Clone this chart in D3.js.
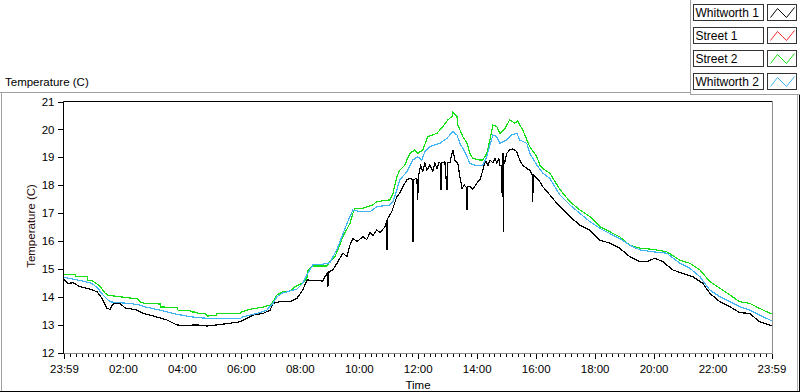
<!DOCTYPE html>
<html><head><meta charset="utf-8">
<script src="https://cdn.jsdelivr.net/npm/d3@7"></script>
<style>
html,body{margin:0;padding:0;background:#fff;}
svg{display:block;font-family:"Liberation Sans",Arial,sans-serif;}
</style></head><body>
<svg id="chart" width="800" height="392"></svg>
<script>
// ---------- data ----------
const seriesNames = ["Whitworth 1", "Street 1", "Street 2", "Whitworth 2"];
const seriesColors = ["#000000", "#ff2a2a", "#12e012", "#40b4f4"];
const yTicks = [12, 13, 14, 15, 16, 17, 18, 19, 20, 21];
const xTickHours = [0, 2, 4, 6, 8, 10, 12, 14, 16, 18, 20, 22, 24];
const xTickLabels = ["23:59", "02:00", "04:00", "06:00", "08:00", "10:00", "12:00", "14:00", "16:00", "18:00", "20:00", "22:00", "23:59"];

// [hours after 23:59, temperature °C]
const whitworth1 = [[0,14.62],[0.14,14.48],[0.31,14.5],[0.54,14.36],[0.88,14.27],[1.12,14.18],[1.29,13.94],[1.46,13.58],[1.56,13.55],[1.66,13.74],[1.9,13.76],[2.07,13.6],[2.48,13.52],[2.68,13.4],[3.02,13.31],[3.49,13.17],[3.83,12.99],[4.04,12.97],[4.51,12.99],[4.85,12.95],[5.19,12.99],[5.63,13.05],[5.97,13.1],[6.21,13.23],[6.41,13.34],[6.75,13.4],[6.99,13.52],[7.09,13.76],[7.32,13.82],[7.66,13.82],[7.9,13.94],[8.1,14.24],[8.24,14.6],[8.58,14.58],[8.78,14.56],[8.92,14.85],[8.95,14.36],[8.99,14.9],[9.12,14.96],[9.26,15.2],[9.46,15.56],[9.6,15.44],[9.7,15.85],[9.8,16.09],[9.94,15.98],[10.14,16.15],[10.27,16.05],[10.38,16.3],[10.48,16.2],[10.61,16.39],[10.72,16.3],[10.89,16.51],[10.95,16.75],[10.96,15.68],[10.98,16.8],[11.12,17.05],[11.29,17.59],[11.39,17.71],[11.5,17.95],[11.63,18.19],[11.73,18.25],[11.83,18.2],[11.84,15.98],[11.86,18.2],[11.97,18.25],[12.0,17.47],[12.02,18.3],[12.1,18.7],[12.17,18.5],[12.24,18.8],[12.31,18.54],[12.41,18.72],[12.51,18.5],[12.58,18.8],[12.65,18.6],[12.72,18.82],[12.78,18.78],[12.79,17.83],[12.81,18.8],[12.92,18.84],[12.99,17.83],[13.01,18.8],[13.09,18.8],[13.19,19.26],[13.26,18.9],[13.36,18.78],[13.43,18.3],[13.5,17.89],[13.58,18.0],[13.66,17.9],[13.67,17.11],[13.69,17.95],[13.77,17.95],[13.87,17.85],[14.0,18.07],[14.11,18.2],[14.21,18.54],[14.3,18.9],[14.38,18.7],[14.45,18.9],[14.55,18.8],[14.62,18.95],[14.68,18.8],[14.75,18.95],[14.79,18.72],[14.84,18.7],[14.85,17.71],[14.87,19.0],[14.89,19.14],[14.9,16.33],[14.92,18.9],[14.95,18.8],[15.02,19.14],[15.12,19.26],[15.23,19.3],[15.36,19.2],[15.46,18.9],[15.56,18.72],[15.7,18.6],[15.8,18.54],[15.89,18.36],[15.9,17.41],[15.92,18.36],[16.04,18.25],[16.14,18.13],[16.24,17.95],[16.48,17.65],[16.82,17.23],[17.16,16.87],[17.5,16.57],[17.84,16.39],[18.18,16.03],[18.51,15.92],[18.85,15.74],[19.19,15.44],[19.53,15.26],[19.77,15.26],[20.04,15.38],[20.31,15.26],[20.65,14.96],[20.99,14.84],[21.33,14.72],[21.67,14.48],[21.91,14.12],[22.25,13.82],[22.59,13.64],[22.92,13.43],[23.26,13.4],[23.6,13.1],[24,12.96]];
const street1 = [];
const street2 = [[0,14.8],[0.37,14.8],[0.41,14.72],[0.78,14.72],[0.81,14.6],[0.98,14.56],[1.22,14.38],[1.39,14.13],[1.49,14.05],[1.9,14.0],[2.48,13.92],[2.58,13.82],[2.75,13.76],[3.26,13.74],[3.29,13.63],[3.83,13.62],[3.87,13.52],[4.27,13.5],[4.31,13.46],[4.51,13.44],[4.54,13.4],[4.78,13.4],[4.85,13.31],[5.15,13.32],[5.19,13.4],[5.97,13.4],[6.04,13.46],[6.31,13.55],[6.75,13.63],[6.99,13.7],[7.09,13.82],[7.22,14.06],[7.43,14.18],[7.66,14.2],[7.83,14.36],[8.07,14.48],[8.24,14.66],[8.27,14.93],[8.44,15.1],[8.92,15.1],[9.02,15.26],[9.19,15.44],[9.29,15.68],[9.46,16.15],[9.7,16.63],[9.8,16.99],[9.87,17.17],[10.14,17.17],[10.48,17.29],[10.61,17.41],[11.05,17.47],[11.16,17.71],[11.29,18.3],[11.39,18.54],[11.56,18.72],[11.73,19.14],[11.9,19.26],[12.0,19.14],[12.17,19.26],[12.34,19.74],[12.65,19.86],[12.85,20.1],[13.02,20.34],[13.16,20.46],[13.19,20.63],[13.33,20.46],[13.36,20.16],[13.53,19.74],[13.67,19.5],[13.77,19.14],[13.87,18.96],[14.11,18.9],[14.21,18.9],[14.34,19.14],[14.45,19.62],[14.55,20.16],[14.68,20.1],[14.79,19.86],[14.96,20.04],[15.12,20.34],[15.29,20.22],[15.39,20.3],[15.56,19.98],[15.8,19.38],[16.04,19.02],[16.14,18.72],[16.24,18.6],[16.48,18.43],[16.82,17.85],[17.16,17.41],[17.5,17.11],[17.84,16.87],[18.18,16.51],[18.51,16.33],[18.85,16.15],[19.19,15.85],[19.53,15.74],[19.97,15.7],[20.45,15.61],[20.89,15.31],[21.23,15.2],[21.57,14.96],[21.91,14.54],[22.25,14.3],[22.59,14.06],[22.92,13.82],[23.26,13.76],[23.6,13.58],[24,13.38]];
const whitworth2 = [[0,14.7],[0.37,14.62],[0.64,14.56],[0.95,14.48],[1.15,14.3],[1.32,14.06],[1.56,13.82],[1.8,13.79],[2.24,13.76],[2.58,13.7],[2.81,13.62],[3.26,13.52],[3.7,13.4],[4.04,13.33],[4.51,13.25],[5.19,13.21],[5.97,13.21],[6.07,13.28],[6.54,13.4],[6.88,13.52],[7.09,13.76],[7.22,14.0],[7.43,14.14],[7.9,14.27],[8.1,14.48],[8.24,14.78],[8.44,15.14],[8.78,15.17],[9.02,15.22],[9.26,15.7],[9.6,16.63],[9.8,17.11],[10.04,17.05],[10.38,17.05],[10.61,17.23],[11.05,17.29],[11.16,17.41],[11.29,17.83],[11.39,18.19],[11.63,18.48],[11.83,18.9],[12.0,19.02],[12.14,18.9],[12.24,19.2],[12.41,19.38],[12.75,19.5],[12.99,19.68],[13.19,19.92],[13.33,19.8],[13.43,19.5],[13.53,19.32],[13.67,19.02],[13.77,18.78],[14.0,18.69],[14.21,18.72],[14.34,19.02],[14.45,19.44],[14.55,19.8],[14.68,19.74],[14.79,19.5],[15.02,19.62],[15.19,19.8],[15.36,19.86],[15.46,19.62],[15.7,19.5],[15.8,19.14],[16.04,18.72],[16.24,18.43],[16.48,18.25],[16.82,17.65],[17.16,17.29],[17.5,16.99],[17.84,16.69],[18.18,16.45],[18.51,16.27],[18.85,16.09],[19.19,15.85],[19.53,15.68],[19.97,15.61],[20.45,15.56],[20.89,15.2],[21.23,15.02],[21.57,14.72],[21.91,14.24],[22.25,14.0],[22.59,13.82],[22.92,13.64],[23.26,13.52],[23.6,13.34],[24,13.14]];

const allSeries = [whitworth1, street1, street2, whitworth2];

// ---------- layout ----------
const svg = d3.select("#chart");
const PL = 63.5, PR = 772.5, PT = 101.5, PB = 353.5;
const x = d3.scaleLinear().domain([0, 24]).range([64, 771.5]);
const y = d3.scaleLinear().domain([12, 21]).range([352.5, 101.5]);
const FONT = "Liberation Sans, Arial, sans-serif";

// outer frame
svg.append("line").attr("x1", 0).attr("x2", 690).attr("y1", 92.5).attr("y2", 92.5).attr("stroke", "#a0a0a0");
svg.append("line").attr("x1", 1.5).attr("x2", 1.5).attr("y1", 92).attr("y2", 391).attr("stroke", "#a0a0a0");
svg.append("line").attr("x1", 0).attr("x2", 800).attr("y1", 391.5).attr("y2", 391.5).attr("stroke", "#000");
svg.append("line").attr("x1", 799.5).attr("x2", 799.5).attr("y1", 95).attr("y2", 392).attr("stroke", "#000");
svg.append("line").attr("x1", 797.5).attr("x2", 797.5).attr("y1", 95).attr("y2", 391).attr("stroke", "#b0b0b0");
// legend frame
svg.append("line").attr("x1", 690.5).attr("x2", 690.5).attr("y1", 0).attr("y2", 95).attr("stroke", "#a0a0a0");
svg.append("line").attr("x1", 690).attr("x2", 800).attr("y1", 94.5).attr("y2", 94.5).attr("stroke", "#a0a0a0");

// top label
svg.append("text").attr("x", 5).attr("y", 86).attr("font-size", "11.5px").attr("fill", "#000").text("Temperature (C)");

// plot frame
svg.append("line").attr("x1", PL).attr("x2", PR).attr("y1", PT).attr("y2", PT).attr("stroke", "#000");
svg.append("line").attr("x1", PR).attr("x2", PR).attr("y1", PT).attr("y2", PB).attr("stroke", "#8c8c8c");
svg.append("line").attr("x1", PL).attr("x2", PR).attr("y1", PB).attr("y2", PB).attr("stroke", "#8c8c8c");
svg.append("line").attr("x1", PL).attr("x2", PL).attr("y1", PT).attr("y2", PB).attr("stroke", "#000");

// y axis
const yAxis = svg.append("g").attr("transform", `translate(${PL},0)`)
  .call(d3.axisLeft(y).tickValues(yTicks).tickFormat(d3.format("d")).tickSize(6).tickPadding(3));
yAxis.select(".domain").remove();
yAxis.selectAll("line").attr("stroke", "#000").attr("shape-rendering", "crispEdges");
yAxis.selectAll("text").attr("font-size", "11.5px").attr("fill", "#000").attr("font-family", FONT);

// x axis minor + major
const minorTicks = d3.range(0, 24.001, 0.2);
const xMinor = svg.append("g").attr("transform", `translate(0,${PB})`)
  .call(d3.axisBottom(x).tickValues(minorTicks).tickFormat("").tickSize(3));
xMinor.select(".domain").remove();
xMinor.selectAll("line").attr("stroke", "#000").attr("shape-rendering", "crispEdges");
const xAxis = svg.append("g").attr("transform", `translate(0,${PB})`)
  .call(d3.axisBottom(x).tickValues(xTickHours).tickFormat((d, i) => xTickLabels[i]).tickSize(5).tickPadding(6));
xAxis.select(".domain").remove();
xAxis.selectAll("line").attr("stroke", "#000").attr("shape-rendering", "crispEdges");
xAxis.selectAll("text").attr("font-size", "11.5px").attr("fill", "#000").attr("font-family", FONT);

// axis titles
svg.append("text").attr("x", 418).attr("y", 389).attr("text-anchor", "middle").attr("font-size", "11.5px").attr("fill", "#000").text("Time");
svg.append("text").attr("transform", "translate(35,226) rotate(-90)").attr("text-anchor", "middle")
  .attr("font-size", "11.5px").attr("fill", "#2a0a0a").text("Temperature (C)");

// lines
const lineGen = d3.line().x(d => x(d[0])).y(d => y(d[1]));
svg.append("g").selectAll("path").data(allSeries).join("path")
  .attr("d", d => d.length ? lineGen(d) : null)
  .attr("fill", "none")
  .attr("stroke", (d, i) => seriesColors[i])
  .attr("stroke-width", 1.2)
  .attr("shape-rendering", "crispEdges");

// legend
const leg = svg.append("g");
seriesNames.forEach((name, i) => {
  const top = 4.5 + 23 * i;
  const g = leg.append("g");
  g.append("rect").attr("x", 693.5).attr("y", top).attr("width", 70).attr("height", 16).attr("fill", "#fff").attr("stroke", "#333");
  g.append("text").attr("x", 695.5).attr("y", top + 12.5).attr("font-size", "12px").attr("fill", "#000").text(name);
  g.append("rect").attr("x", 767.5).attr("y", top).attr("width", 29).attr("height", 16).attr("fill", "#fff").attr("stroke", "#333");
  const sx = 767.5, sy = top;
  g.append("path").attr("d", `M${sx+3},${sy+13} L${sx+10},${sy+4} L${sx+19},${sy+13} L${sx+27},${sy+3}`)
    .attr("fill", "none").attr("stroke", seriesColors[i]).attr("stroke-width", 1);
});
</script>
</body></html>
